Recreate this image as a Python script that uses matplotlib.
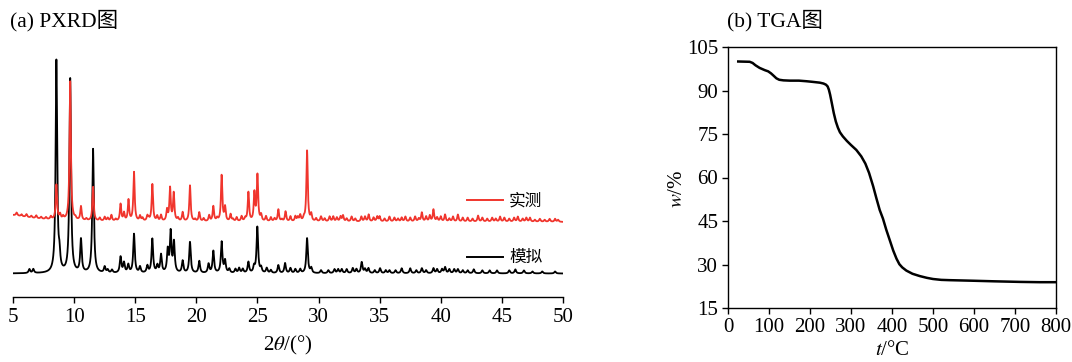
import numpy as np
import matplotlib
matplotlib.use("Agg")
import matplotlib.pyplot as plt
from matplotlib.lines import Line2D

plt.rcParams['font.family'] = ['Liberation Serif', 'Noto Sans CJK SC', 'DejaVu Sans']
plt.rcParams['mathtext.fontset'] = 'stix'

# ---- PXRD: simulated pattern (peak position 2theta, relative height) ----
sim_pos = [6.34, 6.66, 8.55, 8.80, 9.68, 10.56, 11.55, 12.50, 12.75, 13.10,
           13.80, 14.08, 14.43, 14.90, 15.39, 15.99, 16.40, 16.81, 17.11, 17.66,
           17.90, 18.17, 18.88, 19.48, 20.24, 21.00, 21.39, 22.07, 22.35, 22.70,
           23.20, 23.50, 23.80, 24.26, 24.72, 24.99, 25.30, 25.76, 26.10, 26.71,
           27.26, 27.70, 28.10, 28.50, 29.06, 29.40, 30.20, 30.80, 31.30, 31.60,
           31.90, 32.30, 32.80, 33.10, 33.53, 33.80, 34.08, 34.60, 35.03, 35.50,
           35.80, 36.30, 36.80, 37.50, 38.00, 38.45, 38.80, 39.40, 39.70, 40.10,
           40.35, 40.70, 41.10, 41.40, 41.80, 42.20, 42.70, 43.40, 44.00, 44.60,
           45.60, 46.10, 46.80, 47.50, 48.30, 49.35]
sim_int = [4, 4, 212, 14, 194, 33, 124, 6, 3, 3,
           16, 10, 8, 39, 6, 7, 34, 7, 18, 22,
           40, 30, 12, 31, 12, 9, 22, 31, 12, 4,
           4, 5, 4, 11, 6, 46, 5, 5, 3, 8,
           10, 5, 4, 4, 35, 5, 3, 3, 4, 4,
           4, 4, 5, 4, 11, 4, 5, 3, 5, 3,
           3, 3, 5, 5, 3, 5, 3, 5, 4, 4,
           6, 4, 4, 4, 3, 3, 4, 3, 3, 3,
           3, 4, 3, 2, 2, 2]

# ---- PXRD: measured pattern ----
exp_pos = [8.55, 8.85, 9.68, 10.56, 11.55, 12.50, 12.75, 13.05, 13.80, 14.08,
           14.45, 14.90, 15.39, 15.99, 16.40, 16.80, 17.11, 17.60, 17.85, 18.15,
           18.88, 19.48, 20.24, 21.05, 21.39, 22.07, 22.35, 22.80, 23.30, 23.70,
           24.26, 24.75, 25.00, 25.30, 25.70, 26.10, 26.71, 27.30, 27.70, 28.10,
           28.50, 29.06, 29.40, 31.20, 32.00, 33.50, 34.10, 35.00, 36.80, 38.45,
           39.10, 39.40, 40.35, 41.40, 43.05, 44.85, 46.30, 47.30, 49.35]
exp_int = [35, 5, 139, 14, 34, 4, 3, 6, 17, 8,
           21, 49, 5, 5, 37, 5, 6, 11, 33, 28,
           9, 36, 9, 6, 15, 46, 14, 7, 4, 5,
           29, 28, 46, 6, 5, 4, 12, 10, 5, 5,
           6, 71, 7, 5, 6, 5, 7, 5, 4, 9,
           6, 12, 7, 7, 6, 5, 5, 4, 3]
# weak jagged features of the measured trace
exp_small_pos = [5.3, 5.7, 6.1, 6.5, 6.9, 7.3, 7.7, 8.1, 9.1, 10.1,
                 11.0, 12.1, 13.4, 15.6, 16.1, 18.5, 19.9, 20.6, 21.7, 23.0,
                 24.0, 26.4, 27.0, 28.3, 28.8, 29.8, 30.2, 30.5, 30.9, 31.5,
                 31.8, 32.3, 32.7, 33.0, 33.8, 34.5, 34.8, 35.4, 35.8, 36.2,
                 36.5, 37.1, 37.5, 37.9, 38.2, 38.8, 39.7, 40.0, 40.7, 41.0,
                 41.8, 42.2, 42.6, 43.4, 43.8, 44.2, 44.5, 45.2, 45.6, 46.0,
                 46.7, 47.0, 47.7, 48.1, 48.5, 48.9, 49.6]
exp_small_int = [3, 2, 3, 2, 3, 2, 2, 3, 3, 2,
                 2, 3, 2, 3, 2, 3, 2, 3, 3, 2,
                 3, 3, 2, 4, 3, 3, 5, 3, 5, 4,
                 5, 3, 5, 3, 5, 4, 5, 3, 5, 4,
                 3, 5, 4, 5, 3, 5, 4, 5, 3, 5,
                 4, 4, 3, 4, 3, 4, 3, 4, 3, 4,
                 3, 4, 2, 3, 2, 3, 2]

sim_base = 23.5
exp_base = 75.0

# ---- TGA ----
tga_t = [25, 53, 60, 67, 77, 90, 98, 105, 112, 118, 125, 135, 151, 173, 191, 205,
         224, 233, 239, 243, 246, 249, 253, 258, 263, 268, 273, 280, 290, 300,
         313, 325, 335, 344, 354, 362, 370, 378, 386, 395, 403, 411, 418, 425,
         435, 450, 468, 485, 500, 520, 540, 598, 650, 712, 760, 800]
tga_w = [100.0, 99.9, 99.5, 98.7, 97.8, 97.0, 96.6, 95.9, 95.0, 94.2, 93.7, 93.5,
         93.4, 93.4, 93.2, 93.0, 92.7, 92.4, 92.0, 91.4, 90.3, 88.6, 85.8, 82.2,
         79.3, 77.2, 75.6, 74.2, 72.6, 71.2, 69.5, 67.3, 64.8, 61.6, 57.0, 52.8,
         48.8, 45.8, 42.0, 38.2, 34.8, 32.0, 30.1, 29.0, 27.9, 26.8, 26.0, 25.4,
         25.0, 24.7, 24.6, 24.4, 24.2, 24.0, 23.9, 23.9]


def profile(x, centers, heights, hw):
    y = np.zeros_like(x)
    for c, h in zip(centers, heights):
        y += h / (1 + ((x - c) / hw) ** 2)
    return y


tt = np.linspace(5, 50, 6000)
y_sim = sim_base + profile(tt, sim_pos, sim_int, 0.075)
y_exp = (exp_base + profile(tt, [4.0], [8], 2.5)
         + profile(tt, exp_pos, exp_int, 0.065)
         + profile(tt, exp_small_pos, exp_small_int, 0.07))

red = '#f0352d'

fig = plt.figure(figsize=(10.72, 3.62), dpi=100)

# (a) PXRD
ax1 = fig.add_axes([13 / 1072, 65 / 362, 550 / 1072, 257 / 362])
ax1.plot(tt, y_sim, color='black', lw=1.3, zorder=2)
ax1.plot(tt, y_exp, color=red, lw=1.3, zorder=3)
ax1.set_xlim(5, 50)
ax1.set_ylim(0, 257)
ax1.set_xticks(np.arange(5, 51, 5))
ax1.set_yticks([])
for s in ['left', 'right', 'top']:
    ax1.spines[s].set_visible(False)
ax1.spines['bottom'].set_linewidth(1.0)
ax1.tick_params(axis='x', direction='out', length=4, width=1.0, labelsize=15, pad=4)
ax1.set_xlabel(r'2$\theta$/(°)', fontsize=15, labelpad=5)
fig.text(10 / 1072, 1 - 21 / 362, '(a) PXRD图', fontsize=15.5, va='center', ha='left')

leg_font = {'family': 'Noto Sans CJK SC', 'size': 12}
h_red = Line2D([], [], color=red, lw=1.4)
h_blk = Line2D([], [], color='black', lw=1.4)
leg1 = ax1.legend([h_red], ['实测'], loc='center left', bbox_to_anchor=(0.825, 0.3735),
                  frameon=False, prop=leg_font, borderpad=0, borderaxespad=0,
                  handlelength=2.2, handletextpad=0.35)
ax1.add_artist(leg1)
ax1.legend([h_blk], ['模拟'], loc='center left', bbox_to_anchor=(0.825, 0.152),
           frameon=False, prop=leg_font, borderpad=0, borderaxespad=0,
           handlelength=2.2, handletextpad=0.35)

# (b) TGA
ax2 = fig.add_axes([728 / 1072, 54 / 362, 328 / 1072, 261 / 362])
ax2.plot(tga_t, tga_w, color='black', lw=1.8)
ax2.set_xlim(0, 800)
ax2.set_ylim(15, 105)
ax2.set_xticks(np.arange(0, 801, 100))
ax2.set_yticks(np.arange(15, 106, 15))
for s in ax2.spines.values():
    s.set_linewidth(1.0)
ax2.tick_params(direction='out', length=4, width=1.0, labelsize=15, pad=3)
ax2.set_xlabel(r'$t$/°C', fontsize=15, labelpad=3)
ax2.set_ylabel(r'$w$/%', fontsize=15)
ax2.yaxis.set_label_coords(-0.125, 0.455)
fig.text(727 / 1072, 1 - 21 / 362, '(b) TGA图', fontsize=15.5, va='center', ha='left')

fig.savefig('out.png', dpi=100)
